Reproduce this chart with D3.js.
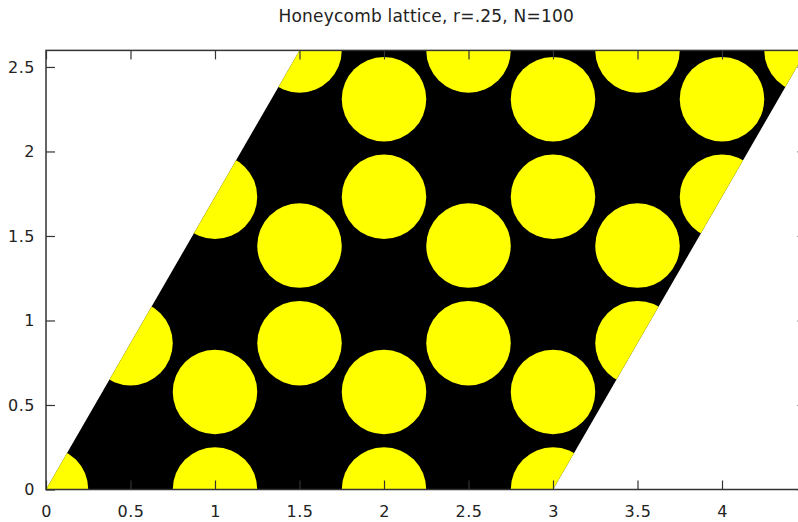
<!DOCTYPE html>
<html>
<head>
<meta charset="utf-8">
<script src="https://cdn.jsdelivr.net/npm/d3@7"></script>
<style>
  html, body { margin: 0; padding: 0; background: #fff; overflow: hidden; }
  svg { display: block; }
  text { font-family: "DejaVu Sans", sans-serif; }
</style>
</head>
<body>
<svg id="chart" width="798" height="522"></svg>
<script>
// Unit cell of the lattice (parallelogram corners)
const cellX = [0, 3, 4.5, 1.5];
const cellY = [0, 0, 2.598, 2.598];

// Lattice site centres (disc radius r)
const siteX = [0, 1, 2, 3,
               1, 2, 3,
               0.5, 1.5, 2.5, 3.5,
               1.5, 2.5, 3.5,
               1, 2, 3, 4,
               2, 3, 4,
               1.5, 2.5, 3.5, 4.5];
const siteY = [0, 0, 0, 0,
               0.577, 0.577, 0.577,
               0.866, 0.866, 0.866, 0.866,
               1.443, 1.443, 1.443,
               1.732, 1.732, 1.732, 1.732,
               2.309, 2.309, 2.309,
               2.598, 2.598, 2.598, 2.598];
const radius = 0.25;

const xTicks = [0, 0.5, 1, 1.5, 2, 2.5, 3, 3.5, 4];
const yTicks = [0, 0.5, 1, 1.5, 2, 2.5];
const titleText = "Honeycomb lattice, r=.25, N=100";

const svg = d3.select("#chart");
const plotLeft = 46, plotRight = 806.5, plotTop = 50.4, plotBottom = 489.5;

const x = d3.scaleLinear().domain([0, 4.5]).range([plotLeft, plotRight]);
const y = d3.scaleLinear().domain([0, 2.598]).range([plotBottom, plotTop]);

const cellPoints = cellX.map((d, i) => [x(d), y(cellY[i])].join(",")).join(" ");

svg.append("defs").append("clipPath").attr("id", "cell")
  .append("polygon")
  .attr("points", cellPoints);

// Black cell
svg.append("polygon")
  .attr("points", cellPoints)
  .attr("fill", "#000");

// Yellow discs clipped to the cell
svg.append("g").attr("clip-path", "url(#cell)")
  .selectAll("circle")
  .data(siteX.map((d, i) => ({ cx: d, cy: siteY[i] })))
  .join("circle")
  .attr("cx", d => x(d.cx))
  .attr("cy", d => y(d.cy))
  .attr("r", x(radius) - x(0))
  .attr("fill", "#ffff00");

// Axes with inward ticks on all four sides
const fmt = d3.format("");
function styleAxis(g) {
  g.select(".domain").remove();
  g.selectAll(".tick line").attr("stroke", "#333").attr("stroke-width", 1.2);
  g.selectAll(".tick text")
    .attr("fill", "#222")
    .style("font-size", "16px")
    .style("letter-spacing", "0.5px")
    .style("font-family", "DejaVu Sans, sans-serif");
}
svg.append("g").attr("transform", `translate(0,${plotBottom})`)
  .call(d3.axisBottom(x).tickValues(xTicks).tickFormat(fmt).tickSize(-9).tickPadding(16))
  .call(styleAxis);
svg.append("g").attr("transform", `translate(0,${plotTop})`)
  .call(d3.axisTop(x).tickValues(xTicks).tickFormat("").tickSize(-9))
  .call(styleAxis);
svg.append("g").attr("transform", `translate(${plotLeft},0)`)
  .call(d3.axisLeft(y).tickValues(yTicks).tickFormat(fmt).tickSize(-9).tickPadding(11))
  .call(styleAxis);
svg.append("g").attr("transform", `translate(${plotRight},0)`)
  .call(d3.axisRight(y).tickValues(yTicks).tickFormat("").tickSize(-9))
  .call(styleAxis);

// Plot border
svg.append("rect")
  .attr("x", plotLeft).attr("y", plotTop)
  .attr("width", plotRight - plotLeft).attr("height", plotBottom - plotTop)
  .attr("fill", "none").attr("stroke", "#333").attr("stroke-width", 1.5);

// Title
svg.append("text")
  .attr("x", (plotLeft + plotRight) / 2).attr("y", 22)
  .attr("text-anchor", "middle")
  .attr("fill", "#222")
  .style("font-size", "17px")
  .style("letter-spacing", "0.2px")
  .text(titleText);
</script>
</body>
</html>
